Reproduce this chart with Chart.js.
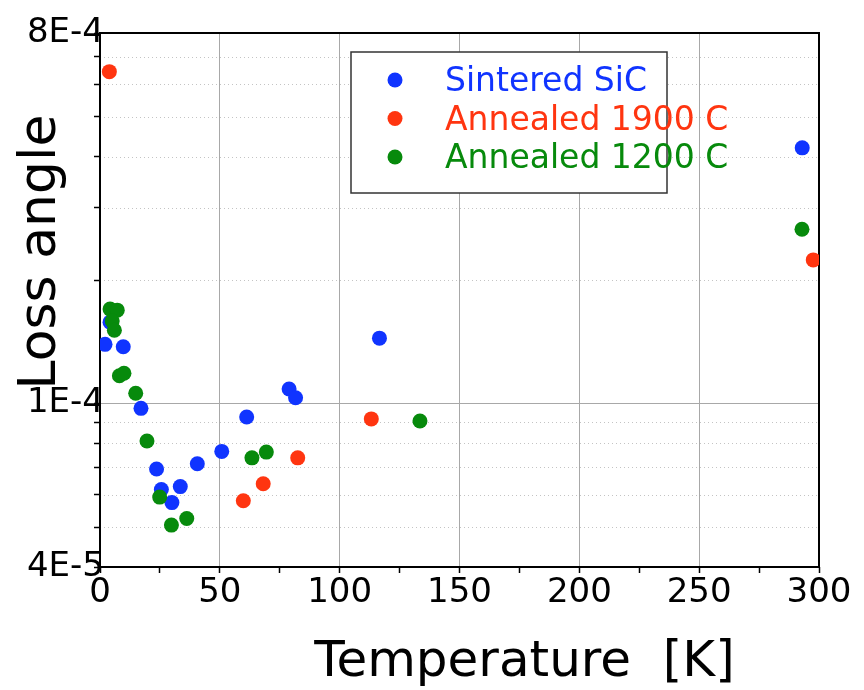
<!DOCTYPE html>
<html>
<head>
<meta charset="utf-8">
<script src="https://cdn.jsdelivr.net/npm/chart.js@4.4.1/dist/chart.umd.min.js"></script>
<style>
  body { margin: 0; background: #fff; }
  #wrap { width: 864px; height: 690px; }
</style>
</head>
<body>
<div id="wrap"><canvas id="lossChart" width="864" height="690"></canvas></div>
<script>
// ---- data: temperature [K], loss angle ----
const sinteredT = [2.1, 4.2, 9.7, 17.1, 23.6, 25.6, 30.0, 33.5, 40.6, 50.8, 61.2, 78.9, 81.6, 116.6, 293.0];
const sinteredLoss = [1.395e-4, 1.58e-4, 1.376e-4, 9.74e-5, 6.93e-5, 6.18e-5, 5.74e-5, 6.28e-5, 7.14e-5, 7.65e-5, 9.28e-5, 1.086e-4, 1.034e-4, 1.444e-4, 4.2e-4];

const ann1900T = [3.9, 59.8, 68.1, 82.5, 113.2, 297.6];
const ann1900Loss = [6.44e-4, 5.8e-5, 6.38e-5, 7.38e-5, 9.18e-5, 2.24e-4];

const ann1200T = [4.2, 7.2, 5.1, 6.0, 8.1, 10.0, 14.9, 19.6, 24.9, 29.8, 36.2, 63.4, 69.4, 133.5, 292.9];
const ann1200Loss = [1.70e-4, 1.69e-4, 1.59e-4, 1.51e-4, 1.17e-4, 1.186e-4, 1.06e-4, 8.11e-5, 5.92e-5, 5.06e-5, 5.25e-5, 7.38e-5, 7.62e-5, 9.07e-5, 2.66e-4];

const seriesLabels = ['Sintered SiC', 'Annealed 1900 C', 'Annealed 1200 C'];
const seriesColors = ['#1034ff', '#ff3510', '#078a0c'];

// axis ticks
const yTickValues = [4e-5, 5e-5, 6e-5, 7e-5, 8e-5, 9e-5, 1e-4, 2e-4, 3e-4, 4e-4, 5e-4, 6e-4, 7e-4, 8e-4];
const yTickLabels = { '4e-5': '4E-5', '1e-4': '1E-4', '8e-4': '8E-4' };
const yMinorGrid = [5e-5, 6e-5, 7e-5, 8e-5, 9e-5, 2e-4, 3e-4, 4e-4, 5e-4, 6e-4, 7e-4];
const xMin = 0, xMax = 300, xStep = 25, xLabelStep = 50;

const FONT = "'DejaVu Sans', sans-serif";

function toPoints(xs, ys) {
    return xs.map((t, i) => ({ x: t, y: ys[i] }));
}

// grid extras, frame, axis titles and the boxed legend
const extras = {
    id: 'extras',
    beforeDatasetsDraw(chart) {
        const { ctx, chartArea: a, scales: { y } } = chart;
        ctx.save();
        // dotted minor lines
        ctx.strokeStyle = '#c4c4c4';
        ctx.lineWidth = 1;
        ctx.setLineDash([1, 3]);
        yMinorGrid.forEach(v => {
            const py = Math.round(y.getPixelForValue(v)) + 0.5;
            ctx.beginPath();
            ctx.moveTo(a.left, py);
            ctx.lineTo(a.right, py);
            ctx.stroke();
        });
        ctx.setLineDash([]);
        // frame
        ctx.strokeStyle = '#000';
        ctx.lineWidth = 2;
        ctx.strokeRect(a.left, a.top, a.right - a.left, a.bottom - a.top);

        // axis titles
        ctx.fillStyle = '#000';
        ctx.font = `50px ${FONT}`;
        ctx.textAlign = 'center';
        ctx.textBaseline = 'alphabetic';
        ctx.fillText('Temperature  [K]', (a.left + a.right) / 2 + 65, 676);

        ctx.translate(55, 252);
        ctx.rotate(-Math.PI / 2);
        ctx.font = `52px ${FONT}`;
        ctx.fillText('Loss angle', 0, 0);
        ctx.restore();
    },
    afterDatasetsDraw(chart) {
        const { ctx, chartArea: a } = chart;
        const bx = a.left + 251, by = a.top + 19, bw = 316, bh = 141;
        ctx.save();
        ctx.fillStyle = '#fff';
        ctx.fillRect(bx, by, bw, bh);
        ctx.strokeStyle = '#333';
        ctx.lineWidth = 1.5;
        ctx.strokeRect(bx, by, bw, bh);
        ctx.font = `33px ${FONT}`;
        ctx.textAlign = 'left';
        ctx.textBaseline = 'alphabetic';
        seriesLabels.forEach((lbl, i) => {
            const cy = by + 28 + i * 38.5;
            ctx.fillStyle = seriesColors[i];
            ctx.beginPath();
            ctx.arc(bx + 44, cy, 7.5, 0, Math.PI * 2);
            ctx.fill();
            ctx.fillText(lbl, bx + 94, cy + 11);
        });
        ctx.restore();
    }
};

const ctx = document.getElementById('lossChart').getContext('2d');
new Chart(ctx, {
    type: 'scatter',
    data: {
        datasets: [
            { label: seriesLabels[0], data: toPoints(sinteredT, sinteredLoss), backgroundColor: seriesColors[0], order: 2 },
            { label: seriesLabels[1], data: toPoints(ann1900T, ann1900Loss), backgroundColor: seriesColors[1], order: 1 },
            { label: seriesLabels[2], data: toPoints(ann1200T, ann1200Loss), backgroundColor: seriesColors[2], order: 0 }
        ]
    },
    options: {
        responsive: false,
        animation: false,
        events: [],
        layout: { padding: { left: 0, top: 33, right: 45, bottom: 0 } },
        elements: { point: { radius: 7.5, borderWidth: 0, hoverRadius: 7.5 } },
        plugins: { legend: { display: false }, tooltip: { enabled: false } },
        scales: {
            x: {
                type: 'linear',
                min: xMin,
                max: xMax,
                afterFit: s => { s.height = 123; },
                border: { display: false },
                grid: {
                    color: c => (c.tick && c.tick.value % xLabelStep === 0) ? '#a8a8a8' : 'rgba(0,0,0,0)',
                    tickColor: '#000',
                    tickLength: 6,
                    tickWidth: 1.5
                },
                ticks: {
                    stepSize: xStep,
                    autoSkip: false,
                    maxRotation: 0,
                    padding: 0,
                    color: '#000',
                    font: { family: FONT, size: 34 },
                    callback: v => (v % xLabelStep === 0) ? String(v) : ''
                }
            },
            y: {
                type: 'logarithmic',
                min: yTickValues[0],
                max: yTickValues[yTickValues.length - 1],
                afterFit: s => { s.width = 100; },
                afterBuildTicks: s => { s.ticks = yTickValues.map(v => ({ value: v })); },
                border: { display: false },
                grid: {
                    color: c => (c.tick && Math.abs(c.tick.value - 1e-4) < 1e-9) ? '#a8a8a8' : 'rgba(0,0,0,0)',
                    tickColor: '#000',
                    tickLength: 6,
                    tickWidth: 1.5
                },
                ticks: {
                    autoSkip: false,
                    padding: -10,
                    color: '#000',
                    font: { family: FONT, size: 34 },
                    callback: v => {
                        const key = Number(v).toExponential().replace('e-', 'e-').replace(/^(\d)e/, '$1e');
                        return yTickLabels[key] || '';
                    }
                }
            }
        }
    },
    plugins: [extras]
});
</script>
</body>
</html>
